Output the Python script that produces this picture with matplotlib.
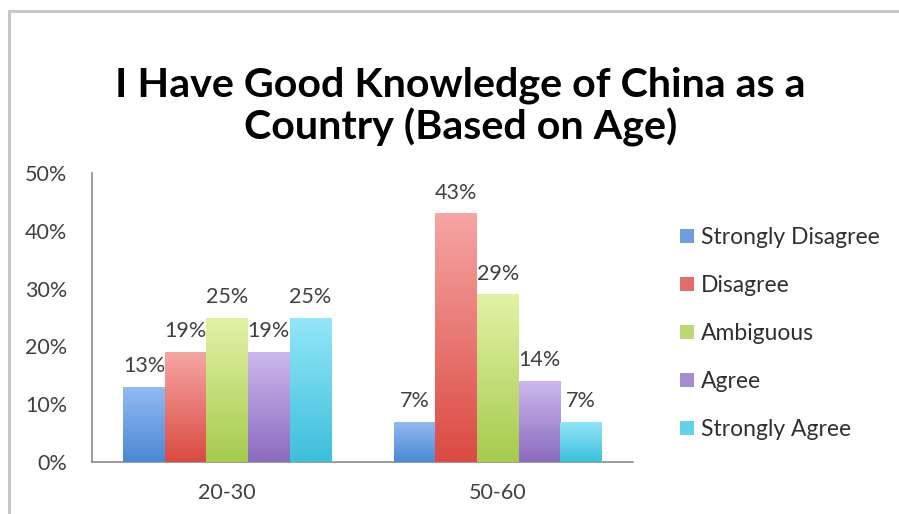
import matplotlib
matplotlib.use("Agg")
import matplotlib.pyplot as plt
import numpy as np
from matplotlib.patches import Patch, Rectangle
from matplotlib.colors import LinearSegmentedColormap

# Survey responses by age group (percent of respondents)
age_groups = ["20-30", "50-60"]
responses = ["Strongly Disagree", "Disagree", "Ambiguous", "Agree", "Strongly Agree"]
strongly_disagree = [13, 7]
disagree = [19, 43]
ambiguous = [25, 29]
agree = [19, 14]
strongly_agree = [25, 7]
y_ticks = [0, 10, 20, 30, 40, 50]

series = [strongly_disagree, disagree, ambiguous, agree, strongly_agree]

# (light top, dark bottom, legend swatch) for each response
palette = [
    ("#93bbf2", "#4a88d4", "#6f9ee0"),
    ("#f6a6a4", "#da4a42", "#e26e6c"),
    ("#e2f2a6", "#a6cb4e", "#bcd874"),
    ("#ccb8ee", "#8a6bbf", "#a68cd2"),
    ("#94e6f8", "#3dbfdc", "#62d2ea"),
]

plt.rcParams["font.family"] = ["Lato", "DejaVu Sans"]

fig = plt.figure(figsize=(8.99, 5.14), dpi=100)
fig.patch.set_facecolor("white")

# thin grey frame around the chart
fig.add_artist(Rectangle((8.5 / 899, -0.05), 2.0, 1.05 - 10.5 / 514,
                         transform=fig.transFigure, fill=False,
                         edgecolor="#c8c8c8", linewidth=2.2))

ax = fig.add_axes([92 / 899, 1 - 462 / 514, (633 - 92) / 899, (462 - 173) / 514])

x = np.arange(len(age_groups))
width = 0.1535
offsets = (np.arange(len(responses)) - 2) * width

grad = np.linspace(0, 1, 256).reshape(-1, 1)
for vals, off, (light, dark, swatch) in zip(series, offsets, palette):
    bars = ax.bar(x + off, vals, width, color=swatch, linewidth=0, zorder=2)
    cmap = LinearSegmentedColormap.from_list("g", [dark, light])
    for b, v in zip(bars, vals):
        x0, w, h = b.get_x(), b.get_width(), b.get_height()
        im = ax.imshow(grad, cmap=cmap, origin="lower", aspect="auto",
                       extent=[x0, x0 + w, 0, h], zorder=3)
        im.set_clip_path(b)
        ax.annotate(f"{v}%", (x0 + w / 2, h), xytext=(0, 15),
                    textcoords="offset points", ha="center", va="center",
                    fontsize=15.5, color="#404040", zorder=4)

ax.set_xlim(-0.5, len(age_groups) - 0.5)
ax.set_ylim(0, 50)
ax.set_xticks(x)
ax.set_xticklabels(age_groups)
ax.set_yticks(y_ticks)
ax.set_yticklabels([f"{t}%" for t in y_ticks])
ax.tick_params(axis="both", length=0, labelsize=15.5, colors="#404040")
ax.tick_params(axis="y", pad=18)
ax.tick_params(axis="x", pad=15)

for s in ["top", "right"]:
    ax.spines[s].set_visible(False)
for s in ["left", "bottom"]:
    ax.spines[s].set_color("#8c8c8c")
    ax.spines[s].set_linewidth(1.2)

handles = [Patch(facecolor=p[2], edgecolor="none") for p in palette]
ax.legend(handles, responses, loc="upper left", bbox_to_anchor=(680 / 899, 1 - 227 / 514),
          bbox_transform=fig.transFigure, frameon=False, fontsize=16.5,
          handlelength=0.6, handleheight=0.6, handletextpad=0.3,
          labelspacing=1.18, borderpad=0, borderaxespad=0, labelcolor="#303030")

fig.text(0.512, 0.792, "I Have Good Knowledge of China as a\nCountry (Based on Age)",
         ha="center", va="center", fontsize=29.7, fontweight="bold",
         linespacing=1.12, color="black")

fig.savefig("out.png", dpi=100)
